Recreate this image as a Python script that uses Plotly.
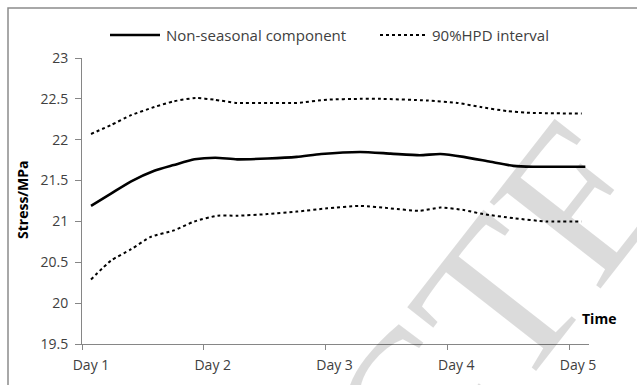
import plotly.graph_objects as go

# Time in days after the start of Day 1, stress in MPa
main_t = [0, 0.164, 0.33, 0.52, 0.68, 0.85, 1.02, 1.20, 1.45, 1.69, 1.89, 2.21,
          2.46, 2.70, 2.87, 3.06, 3.28, 3.47, 3.63, 4.06]
main_v = [21.19, 21.34, 21.49, 21.62, 21.69, 21.76, 21.78, 21.76, 21.77, 21.79, 21.825, 21.85,
          21.83, 21.81, 21.825, 21.79, 21.73, 21.68, 21.67, 21.67]

upper_t = [0, 0.164, 0.33, 0.52, 0.68, 0.86, 1.01, 1.20, 1.45, 1.69, 1.94, 2.21,
           2.38, 2.76, 3.01, 3.20, 3.42, 3.58, 4.03]
upper_v = [22.07, 22.18, 22.30, 22.40, 22.47, 22.51, 22.49, 22.45, 22.45, 22.45, 22.49, 22.50,
           22.50, 22.48, 22.45, 22.40, 22.35, 22.33, 22.32]

lower_t = [0, 0.164, 0.33, 0.49, 0.68, 0.85, 1.04, 1.20, 1.45, 1.69, 1.94, 2.21,
           2.46, 2.70, 2.87, 3.06, 3.22, 3.47, 3.74, 4.03]
lower_v = [20.29, 20.52, 20.66, 20.81, 20.89, 21.00, 21.07, 21.07, 21.09, 21.12, 21.16, 21.19,
           21.16, 21.13, 21.17, 21.14, 21.09, 21.04, 21.00, 21.00]

series_names = ["Non-seasonal component", "90%HPD interval"]
day_labels = ["Day 1", "Day 2", "Day 3", "Day 4", "Day 5"]
day_ticks = [-0.074, 0.926, 1.926, 2.926, 3.926]
y_ticks = [19.5, 20, 20.5, 21, 21.5, 22, 22.5, 23]

FONT = "Open Sans"
GREY = "#868686"
TXT = "#404040"

solid = dict(color="black", width=2.6, shape="spline", smoothing=0.6)
dotted = dict(color="black", width=2, dash="dot", shape="spline", smoothing=0.6)

fig = go.Figure()
fig.add_trace(go.Scatter(x=main_t, y=main_v, mode="lines", name=series_names[0], line=solid))
fig.add_trace(go.Scatter(x=upper_t, y=upper_v, mode="lines", name=series_names[1], line=dotted))
fig.add_trace(go.Scatter(x=lower_t, y=lower_v, mode="lines", name=series_names[1], line=dotted))

L, R, T, B = 82, 48, 58, 41
W, H = 637, 385
pw, ph = W - L - R, H - T - B


def px(x):
    return (x - L) / pw


def py(y):
    return (H - B - y) / ph


# legend drawn as line samples + labels above the plot area
legend_y = 35
legend_items = [
    (110, 160, "solid", 2.6, 164, series_names[0]),
    (380, 425, "dot", 2, 430, series_names[1]),
]
shapes = [dict(type="rect", xref="paper", yref="paper",
               x0=px(8), x1=px(700), y0=py(450), y1=py(8),
               line=dict(color="#8c8c8c", width=1.5), layer="below")]
annotations = []
for x0, x1, dash, lw, tx, label in legend_items:
    shapes.append(dict(type="line", xref="paper", yref="paper",
                       x0=px(x0), x1=px(x1), y0=py(legend_y), y1=py(legend_y),
                       line=dict(color="black", width=lw, dash=dash)))
    annotations.append(dict(text=label, xref="paper", yref="paper", x=px(tx), y=py(legend_y),
                            xanchor="left", yanchor="middle", showarrow=False,
                            font=dict(family=FONT, size=15, color=TXT)))

annotations += [
    dict(text="<b>Stress/MPa</b>", xref="paper", yref="paper", x=px(22), y=py(200),
         xanchor="center", yanchor="middle",
         showarrow=False, textangle=-90, font=dict(family=FONT, size=14, color="black")),
    dict(text="<b>Time</b>", xref="paper", yref="paper", x=px(599), y=py(318),
         xanchor="center", yanchor="middle",
         showarrow=False, font=dict(family=FONT, size=14, color="black")),
    dict(text="CTE", xref="paper", yref="paper", x=px(495), y=py(305),
         xanchor="center", yanchor="middle",
         showarrow=False, textangle=-52,
         font=dict(family="Liberation Serif", size=215, color="rgba(0,0,0,0.14)")),
]

fig.update_layout(
    width=W, height=H,
    margin=dict(l=L, r=R, t=T, b=B, autoexpand=False),
    paper_bgcolor="white", plot_bgcolor="white",
    font=dict(family=FONT, size=14, color=TXT),
    showlegend=False,
    xaxis=dict(range=[-0.074, 4.09], tickvals=day_ticks, ticktext=day_labels,
               showgrid=False, zeroline=False, showline=True, linecolor=GREY, linewidth=1,
               ticks="outside", ticklen=5, tickcolor=GREY, ticklabelshift=9,
               ticklabelstandoff=3, automargin=False,
               tickfont=dict(family=FONT, size=14, color=TXT)),
    yaxis=dict(range=[19.5, 23], tickvals=y_ticks, ticktext=[f"{v:g}" for v in y_ticks],
               showgrid=False, zeroline=False, showline=True, linecolor=GREY, linewidth=1,
               ticks="outside", ticklen=6, tickcolor=GREY, ticklabelstandoff=4,
               automargin=False,
               tickfont=dict(family=FONT, size=14, color=TXT)),
    shapes=shapes,
    annotations=annotations,
)

fig.write_html("out.html")
